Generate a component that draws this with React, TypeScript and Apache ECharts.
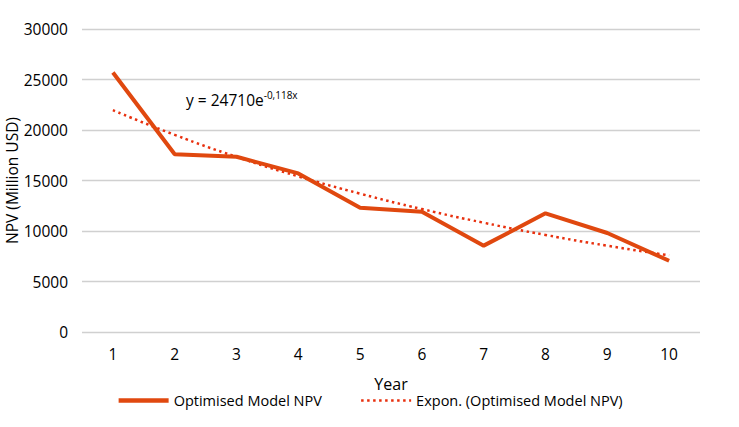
import React, { useEffect, useRef } from "react";
import * as echarts from "echarts";

const years = ["1", "2", "3", "4", "5", "6", "7", "8", "9", "10"];
const npvValues = [25700, 17600, 17350, 15700, 12300, 11900, 8550, 11750, 9800, 7050];
const trendValues = [21960, 19520, 17340, 15410, 13700, 12170, 10820, 9610, 8540, 7590];
const yTicks = [0, 30000, 5000];
const seriesNames = ["Optimised Model NPV", "Expon. (Optimised Model NPV)"];

const FONT = "'Open Sans', 'Noto Sans', sans-serif";

export default function App() {
  const ref = useRef<HTMLDivElement>(null);
  useEffect(() => {
    if (!ref.current) return;
    const chart = echarts.init(ref.current, null, { renderer: "svg" });
    chart.setOption({
      animation: false,
      backgroundColor: "#fff",
      textStyle: { fontFamily: FONT },
      grid: { left: 82, right: 39, top: 29, bottom: 95, containLabel: false, outerBoundsMode: "none" },
      legend: {
        bottom: 14,
        left: "center",
        itemWidth: 50,
        itemHeight: 10,
        itemGap: 38,
        itemStyle: { opacity: 0 },
        textStyle: { fontSize: 14.5, color: "#000", fontFamily: FONT },
        data: [
          { name: seriesNames[0], lineStyle: { width: 4.5 } },
          { name: seriesNames[1], lineStyle: { width: 2.5 } },
        ],
      },
      xAxis: {
        type: "category",
        data: years,
        boundaryGap: true,
        name: "Year",
        nameLocation: "middle",
        nameGap: 44,
        nameMoveOverlap: false,
        nameTextStyle: { fontSize: 16, color: "#000" },
        axisLine: { show: false },
        axisTick: { show: false },
        axisLabel: { fontSize: 15.5, color: "#000", margin: 14 },
      },
      yAxis: {
        type: "value",
        min: yTicks[0],
        max: yTicks[1],
        interval: yTicks[2],
        name: "NPV (Million USD)",
        nameLocation: "middle",
        nameGap: 62,
        nameMoveOverlap: false,
        nameTextStyle: { fontSize: 15.5, color: "#000" },
        axisLine: { show: false },
        axisTick: { show: false },
        axisLabel: { fontSize: 15.5, color: "#000", margin: 14, formatter: (v: number) => String(v) },
        splitLine: { lineStyle: { color: "#d0d0d0", width: 1.3 } },
      },
      series: [
        {
          name: seriesNames[0],
          type: "line",
          data: npvValues,
          symbol: "none",
          lineStyle: { color: "#E0480F", width: 4 },
          itemStyle: { color: "#E0480F" },
          z: 3,
        },
        {
          name: seriesNames[1],
          type: "line",
          data: trendValues,
          symbol: "none",
          smooth: true,
          lineStyle: { color: "#E8300E", width: 2.5, type: [2.5, 3.5] },
          itemStyle: { color: "#E8300E" },
          z: 2,
        },
      ],
      graphic: [
        {
          type: "text",
          left: 186,
          top: 90,
          style: {
            text: "{b|y = 24710e}{s|-0,118x}",
            rich: {
              b: { fontSize: 15.5, fontFamily: FONT, fill: "#000", verticalAlign: "bottom" },
              s: { fontSize: 10, fontFamily: FONT, fill: "#000", padding: [0, 0, 8, 0] },
            },
          },
        },
      ],
    });
    return () => chart.dispose();
  }, []);
  return (
    <div
      ref={ref}
      style={{ position: "absolute", left: 0, top: 0, width: 739, height: 427 }}
    />
  );
}
